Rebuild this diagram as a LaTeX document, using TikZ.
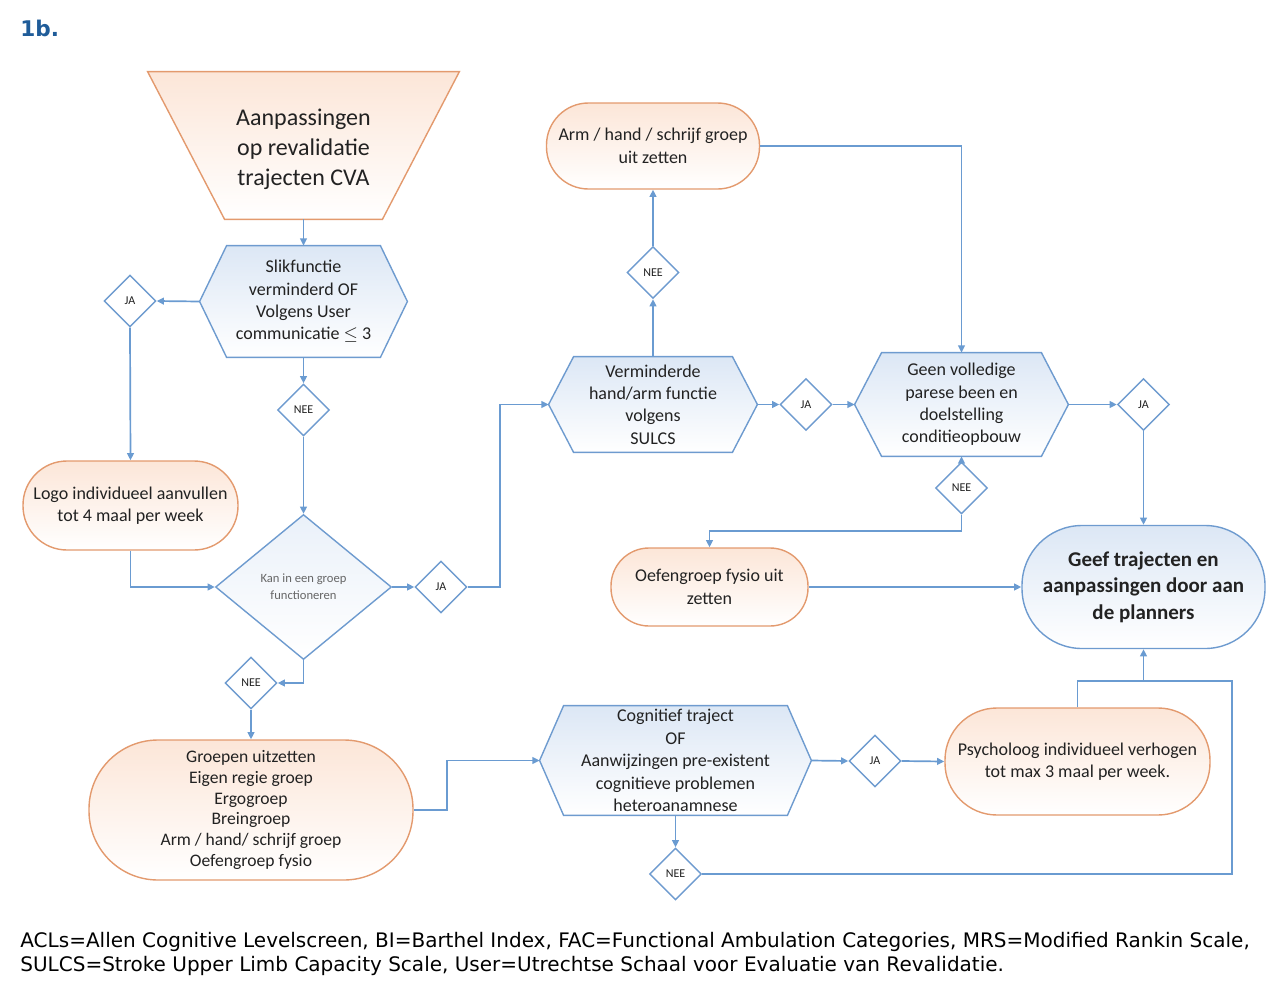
\documentclass[tikz,border=0pt]{standalone}
\usepackage{fontspec}
\setmainfont{Carlito}
\newfontfamily\verd{DejaVu Sans}
\usetikzlibrary{shapes.geometric,arrows.meta,backgrounds,calc}

\definecolor{lineblue}{HTML}{6A9BD1}
\definecolor{hexborder}{HTML}{6E9BCF}
\definecolor{orangeborder}{HTML}{E39A6E}
\definecolor{peach}{HTML}{FCE6D8}
\definecolor{iceblue}{HTML}{DCE7F5}
\definecolor{titleblue}{HTML}{1F5C99}
\definecolor{txt}{HTML}{222222}
\definecolor{greytxt}{HTML}{666666}

\newcommand\hexback[2]{%
  \begin{scope}[on background layer]
    \path[hexbg] (#1.west) -- ([xshift=#2]#1.north west) -- ([xshift=-#2]#1.north east)
      -- (#1.east) -- ([xshift=-#2]#1.south east) -- ([xshift=#2]#1.south west) -- cycle;
  \end{scope}}

\begin{document}
\begin{tikzpicture}[x=0.5pt,y=-0.5pt,
  conn/.style={draw=lineblue, line width=0.85pt},
  arr/.style={conn, -{Triangle[length=3.6pt,width=3.4pt]}},
  txtnode/.style={inner sep=0pt, text=txt, align=center},
  body/.style={font=\fontsize{9}{11.2}\selectfont},
  hexnode/.style={txtnode, rectangle, body},
  hexbg/.style={draw=hexborder, line width=0.7pt, top color=iceblue, bottom color=white},
  trapbg/.style={draw=orangeborder, line width=0.7pt, top color=peach, bottom color=white},
  term/.style={rectangle, draw=orangeborder, line width=0.7pt, top color=peach, bottom color=white,
    inner sep=0pt, text=txt, align=center, body, rounded corners=#1},
  bterm/.style={rectangle, draw=hexborder, line width=0.7pt, top color=iceblue, bottom color=white,
    inner sep=0pt, text=txt, align=center, rounded corners=#1},
  dec/.style={diamond, draw=hexborder, line width=0.7pt, fill=white, minimum width=26pt,
    minimum height=26pt, inner sep=0pt, text=txt, font=\fontsize{6}{7}\selectfont},
]
\useasboundingbox (0,0) rectangle (1280,991);

% title
\node[txtnode, text=titleblue, anchor=west, font=\verd\bfseries\fontsize{10.8}{13}\selectfont] (title) at (20,28) {1b.};

% start trapezoid
\node[inner sep=0pt, minimum width=155.5pt, minimum height=73.5pt] (start) at (303.5,145.5) {};
\node[txtnode, font=\fontsize{12}{15}\selectfont] (starttxt) at (303.5,149.5)
  {Aanpassingen\\op revalidatie\\trajecten CVA};
\begin{scope}[on background layer]
  \path[trapbg] (start.north west) -- (start.north east) -- ([xshift=-38.5pt]start.south east)
    -- ([xshift=38.5pt]start.south west) -- cycle;
\end{scope}

% hexagons
\node[hexnode, minimum width=103.5pt, minimum height=55.5pt] (slik) at (303.5,301.5)
  {Slikfunctie\\verminderd OF\\Volgens User\\communicatie $\le$ 3};
\hexback{slik}{13.5pt}
\node[hexnode, minimum width=104pt, minimum height=47.5pt] (verm) at (653,404.5)
  {Verminderde\\hand/arm functie\\volgens\\SULCS};
\hexback{verm}{12.5pt}
\node[hexnode, minimum width=106.5pt, minimum height=51.5pt] (geen) at (961.5,404.5)
  {Geen volledige\\parese been en\\doelstelling\\conditieopbouw};
\hexback{geen}{13.5pt}
\node[hexnode, minimum width=135.5pt, minimum height=54.5pt] (cog) at (675.5,760.5)
  {Cognitief traject\\OF\\Aanwijzingen pre-existent\\cognitieve problemen\\heteroanamnese};
\hexback{cog}{12pt}

% terminators
\node[term=22pt, minimum width=107.5pt, minimum height=44.5pt] (logo) at (130.5,505.5)
  {Logo individueel aanvullen\\tot 4 maal per week};
\node[term=34.5pt, minimum width=162pt, minimum height=70pt, font=\fontsize{8.8}{10.4}\selectfont] (groep) at (251,810)
  {Groepen uitzetten\\Eigen regie groep\\Ergogroep\\Breingroep\\Arm / hand/ schrijf groep\\Oefengroep fysio};
\node[term=21pt, minimum width=106.5pt, minimum height=43pt] (arm) at (653,146)
  {Arm / hand / schrijf groep\\uit zetten};
\node[term=19pt, minimum width=98.5pt, minimum height=39pt] (oef) at (709.5,587)
  {Oefengroep fysio uit\\zetten};
\node[term=26pt, minimum width=132.5pt, minimum height=53.5pt] (psy) at (1077.5,761.5)
  {Psycholoog individueel verhogen\\tot max 3 maal per week.};
\node[bterm=30pt, minimum width=121.5pt, minimum height=61.5pt, font=\bfseries\fontsize{10.5}{13.3}\selectfont] (geef) at (1143.5,587)
  {Geef trajecten en\\aanpassingen door aan\\de planners};

% decisions
\node[diamond, draw=hexborder, line width=0.7pt, top color=iceblue!60, bottom color=white, minimum width=88pt, minimum height=72.5pt,
  inner sep=0pt, text=greytxt, align=center, font=\fontsize{6.3}{8.5}\selectfont] (kan) at (303.5,587)
  {Kan in een groep\\functioneren};
\node[dec] (ja1) at (130,301) {JA};
\node[dec] (nee1) at (303.5,410) {NEE};
\node[dec] (ja2) at (441,587) {JA};
\node[dec] (nee2) at (251,683) {NEE};
\node[dec] (nee3) at (653,272.5) {NEE};
\node[dec] (ja3) at (806,404.5) {JA};
\node[dec] (ja4) at (1143.5,404.5) {JA};
\node[dec] (nee4) at (961.5,488) {NEE};
\node[dec] (ja5) at (875,761) {JA};
\node[dec] (nee5) at (675.5,874) {NEE};

% helper coordinates
\coordinate (c1) at (500,587);
\coordinate (c2) at (447,810);
\coordinate (c3) at (961.5,531);
\coordinate (j) at (1143.5,681);
\coordinate (jr) at (1232,681);

% connectors
\draw[arr] (start.south) -- (slik.north);
\draw[arr] (slik.west) -- (ja1.east);
\draw[arr] (ja1.south) -- (logo.north);
\draw[arr] (slik.south) -- (nee1.north);
\draw[arr] (nee1.south) -- (kan.north);
\draw[arr] (logo.south) |- (kan.west);
\draw[arr] (kan.east) -- (ja2.west);
\draw[arr] (ja2.east) -- (c1) |- (verm.west);
\draw[arr] (kan.south) |- (nee2.east);
\draw[arr] (nee2.south) -- (groep.north);
\draw[arr] (groep.east) -- (c2) |- (cog.west);
\draw[arr] (verm.north) -- (nee3.south);
\draw[arr] (nee3.north) -- (arm.south);
\draw[arr] (arm.east) -| (geen.north);
\draw[arr] (verm.east) -- (ja3.west);
\draw[arr] (ja3.east) -- (geen.west);
\draw[arr] (geen.east) -- (ja4.west);
\draw[arr] (ja4.south) -- (geef.north);
\draw[arr] (nee4.north) -- (geen.south);
\draw[arr] (nee4.south) -- (c3) -| (oef.north);
\draw[arr] (oef.east) -- (geef.west);
\draw[arr] (cog.east) -- (ja5.west);
\draw[arr] (ja5.east) -- (psy.west);
\draw[arr] (cog.south) -- (nee5.north);
\draw[conn] (psy.north) |- (j);
\draw[conn] (nee5.east) -| (jr) -- (j);
\draw[arr] (j) -- (geef.south);

% footer
\node[inner sep=0pt, anchor=west, align=left, text=black, font=\verd\fontsize{10}{12}\selectfont] (foot) at (20,954)
  {ACLs=Allen Cognitive Levelscreen, BI=Barthel Index, FAC=Functional Ambulation Categories, MRS=Modified Rankin Scale,\\
   SULCS=Stroke Upper Limb Capacity Scale, User=Utrechtse Schaal voor Evaluatie van Revalidatie.};
\end{tikzpicture}
\end{document}
